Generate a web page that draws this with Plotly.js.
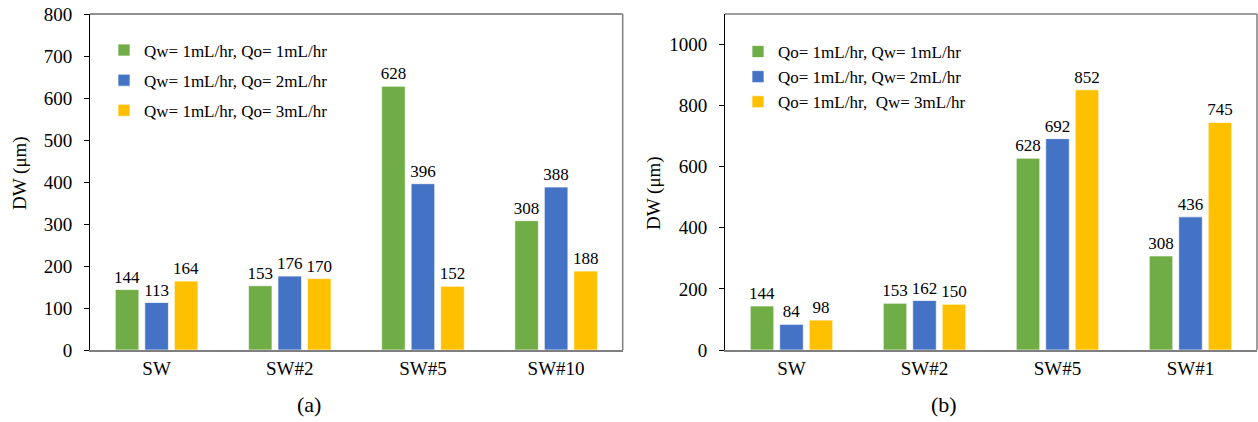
<!DOCTYPE html>
<html>
<head>
<meta charset="utf-8">
<script src="https://cdn.plot.ly/plotly-3.0.1.min.js"></script>
</head>
<body style="margin:0;padding:0;background:#fff;">
<div id="chart" style="width:1258px;height:422px;"></div>
<script>
// Panel (a)
const catsA = ["SW", "SW#2", "SW#5", "SW#10"];
const namesA = ["Qw= 1mL/hr, Qo= 1mL/hr", "Qw= 1mL/hr, Qo= 2mL/hr", "Qw= 1mL/hr, Qo= 3mL/hr"];
const a1 = [144, 153, 628, 308];
const a2 = [113, 176, 396, 388];
const a3 = [164, 170, 152, 188];
const yTicksA = [0, 100, 200, 300, 400, 500, 600, 700, 800];

// Panel (b)
const catsB = ["SW", "SW#2", "SW#5", "SW#1"];
const namesB = ["Qo= 1mL/hr, Qw= 1mL/hr", "Qo= 1mL/hr, Qw= 2mL/hr", "Qo= 1mL/hr,  Qw= 3mL/hr"];
const b1 = [144, 153, 628, 308];
const b2 = [84, 162, 692, 436];
const b3 = [98, 150, 852, 745];
const yTicksB = [0, 200, 400, 600, 800, 1000];

const colors = ["#70AD47", "#4472C4", "#FFC000"];
const FONT = "Times New Roman";

function bar(x, y, name, color, xa, ya, leg, grp) {
  return {
    type: "bar", x: x, y: y, name: name, xaxis: xa, yaxis: ya, legend: leg, legendgroup: grp,
    marker: {color: color, line: {color: "rgba(255,255,255,0.7)", width: 1}},
    text: y.map(String), textposition: "outside", cliponaxis: false, constraintext: "none",
    textfont: {family: FONT, size: 17, color: "#000"},
    hoverinfo: "x+y"
  };
}

const data = [
  bar(catsA, a1, namesA[0], colors[0], "x", "y", "legend", "a1"),
  bar(catsA, a2, namesA[1], colors[1], "x", "y", "legend", "a2"),
  bar(catsA, a3, namesA[2], colors[2], "x", "y", "legend", "a3"),
  bar(catsB, b1, namesB[0], colors[0], "x2", "y2", "legend2", "b1"),
  bar(catsB, b2, namesB[1], colors[1], "x2", "y2", "legend2", "b2"),
  bar(catsB, b3, namesB[2], colors[2], "x2", "y2", "legend2", "b3")
];

const yDom = [1 - 350/422, 1 - 14/422];
function xax(dom, anchor) {
  return {
    domain: dom, anchor: anchor, type: "category", showgrid: false, zeroline: false,
    showline: true, linecolor: "#7f7f7f", linewidth: 1.5, ticks: "", ticklabelstandoff: 0,
    tickfont: {family: FONT, size: 19, color: "#000"}
  };
}
function yax(anchor, range, vals) {
  return {
    domain: yDom, anchor: anchor, range: range, tickvals: vals, ticktext: vals.map(String),
    showgrid: false, zeroline: false, showline: true, linecolor: "#000", linewidth: 1,
    ticks: "outside", ticklen: 5, tickcolor: "#000", tickwidth: 1, ticklabelstandoff: 8,
    tickfont: {family: FONT, size: 19, color: "#000"}
  };
}

const layout = {
  width: 1258, height: 422,
  margin: {l: 0, r: 0, t: 0, b: 0},
  paper_bgcolor: "#fff", plot_bgcolor: "#fff",
  font: {family: FONT, size: 17, color: "#000"},
  barmode: "group", bargap: 0.335, bargroupgap: 0.2,
  showlegend: true,
  xaxis: xax([90/1258, 622.7/1258], "y"),
  yaxis: yax("x", [0, 800], yTicksA),
  xaxis2: xax([725/1258, 1257/1258], "y2"),
  yaxis2: yax("x2", [0, 1100], yTicksB),
  legend: {
    x: 104/1258, y: 1 - 32.5/422, xanchor: "left", yanchor: "top",
    bgcolor: "rgba(0,0,0,0)", traceorder: "grouped", tracegroupgap: 5,
    font: {family: FONT, size: 17, color: "#000"}
  },
  legend2: {
    x: 738/1258, y: 1 - 34/422, xanchor: "left", yanchor: "top",
    bgcolor: "rgba(0,0,0,0)", traceorder: "grouped", tracegroupgap: 0,
    font: {family: FONT, size: 17, color: "#000"}
  },
  shapes: [
    {type: "line", xref: "x domain", yref: "y domain", x0: 0, x1: 1, y0: 1, y1: 1, line: {color: "#222", width: 1.2}},
    {type: "line", xref: "x domain", yref: "y domain", x0: 1, x1: 1, y0: 0, y1: 1, line: {color: "#7f7f7f", width: 1.5}},
    {type: "line", xref: "x2 domain", yref: "y2 domain", x0: 0, x1: 1, y0: 1, y1: 1, line: {color: "#7f7f7f", width: 1.5}},
    {type: "line", xref: "x2 domain", yref: "y2 domain", x0: 1, x1: 1, y0: 0, y1: 1, line: {color: "#7f7f7f", width: 1.5}}
  ],
  annotations: [
    {text: "DW (μm)", xref: "paper", yref: "paper", x: 20/1258, y: 1 - 173/422, textangle: -90,
     showarrow: false, xanchor: "center", yanchor: "middle", font: {family: FONT, size: 19, color: "#000"}},
    {text: "DW (μm)", xref: "paper", yref: "paper", x: 654/1258, y: 1 - 193/422, textangle: -90,
     showarrow: false, xanchor: "center", yanchor: "middle", font: {family: FONT, size: 19, color: "#000"}},
    {text: "(a)", xref: "paper", yref: "paper", x: 309/1258, y: 1 - 404/422,
     showarrow: false, xanchor: "center", yanchor: "middle", font: {family: FONT, size: 22, color: "#000"}},
    {text: "(b)", xref: "paper", yref: "paper", x: 944/1258, y: 1 - 404/422,
     showarrow: false, xanchor: "center", yanchor: "middle", font: {family: FONT, size: 22, color: "#000"}}
  ]
};

Plotly.newPlot("chart", data, layout, {displayModeBar: false});
</script>
</body>
</html>
